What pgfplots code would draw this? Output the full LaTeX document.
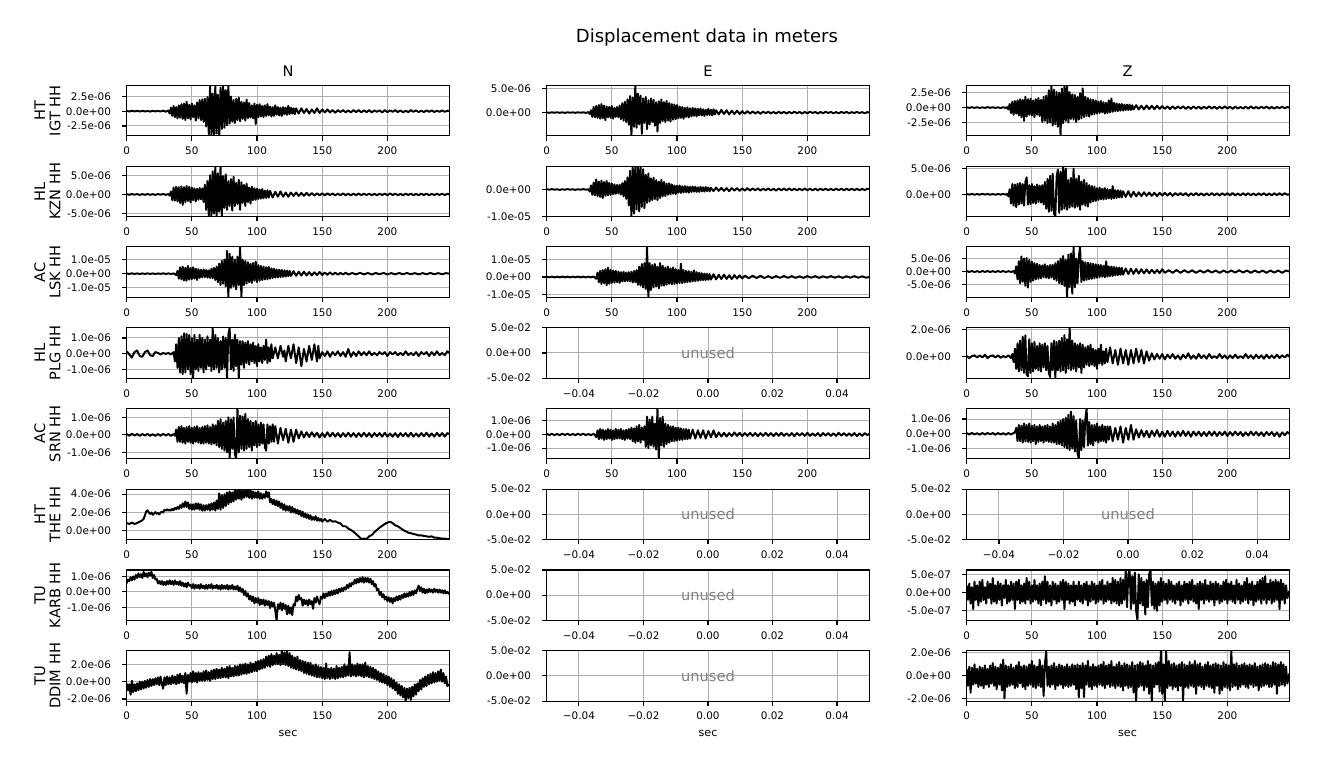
\documentclass[border=0pt]{standalone}
\usepackage{fontspec}
\setmainfont{DejaVu Sans}
\usepackage{pgfplots}
\pgfplotsset{compat=1.18}
\pgfplotsset{
  panel/.style={scale only axis, width=232.3pt, height=36.3pt, anchor=south west,
    axis line style={line width=0.8pt}, tick align=outside, xtick pos=bottom, ytick pos=left,
    major tick length=3.5pt, every tick/.style={black, line width=0.8pt},
    grid=major, major grid style={color=black!31, line width=0.7pt},
    scaled ticks=false,
    ticklabel style={font=\fontsize{7.5}{9}\selectfont},
    xticklabel shift=1pt, yticklabel shift=4.3pt,
    /pgf/number format/assume math mode=true},
  wave/.style={panel, xmin=0, xmax=247.5, xtick={0,50,100,150,200}, xticklabels={0,50,100,150,200}},
  unused/.style={panel, xmin=-0.05, xmax=0.05, ymin=-0.05, ymax=0.05,
    xtick={-0.04,-0.02,0,0.02,0.04}, xticklabels={−0.04,−0.02,0.00,0.02,0.04},
    ytick={-0.05,0,0.05}, yticklabels={-5.0e-02,0.0e+00,5.0e-02}},
  trace/.style={black, line width=1.4pt, line join=round, no marks},
}
\newcommand{\unusedtext}{\node[text=black!50, font=\fontsize{10.5}{12}\selectfont] at (axis cs:0,0) {unused};}
\begin{document}
\begin{tikzpicture}
\useasboundingbox (0,0) rectangle (948.96pt,553.68pt);
% titles
\node[font=\fontsize{13}{15}\selectfont] at (509pt,526.3pt) {Displacement data in meters};
\node[font=\fontsize{10.5}{12}\selectfont] at (207.4pt,502.3pt) {N};
\node[font=\fontsize{10.5}{12}\selectfont] at (509.8pt,502.3pt) {E};
\node[font=\fontsize{10.5}{12}\selectfont] at (811.8pt,502.3pt) {Z};
\foreach \lab [count=\i from 0] in {{HT\\IGT HH},{HL\\KZN HH},{AC\\LSK HH},{HL\\PLG HH},{AC\\SRN HH},{HT\\THE HH},{TU\\KARB HH},{TU\\DDIM HH}}
  \node[rotate=90, align=center, font=\fontsize{10.5}{11}\selectfont] at (34.2pt,{473.95pt-58.13pt*\i}) {\lab};
\foreach \xc in {207.4pt,509.8pt,811.8pt}
  \node[font=\fontsize{8}{10}\selectfont] at (\xc,25.9pt) {sec};
%% row 1 : IGT
\begin{axis}[wave, at={(91.2pt,455.8pt)}, ymin=-4.19, ymax=4.36, ytick={-2.5,0,2.5}, yticklabels={-2.5e-06,0.0e+00,2.5e-06}]
\addplot[trace] coordinates {(0,.05)(2,-.05)(4,.08)(6,-.03)(8,.06)(10,-.05)(12,.07)(14,-.04)(16,.05)(18,-.06)(20,.08)(22,-.03)(24,.06)(26,-.05)(28,.1)(30,-.08)(32,.12)
(33,-.4)(34,.6)(35,-.8)(36,.9)(37,-1)(38,.7)(39,-1.2)(40,1)(41,-1.1)(42,1.2)(43,-1.3)(44,1.3)(45,-1.5)(46,1.6)(47,-1.2)(48,1.1)(49,-1.4)(50,1.3)(51,-1)(52,1)(53,-1.6)(54,1.5)(55,-1.2)(56,1.9)(57,-1.5)(58,2)(59,-1.8)(60,2.1)(61,-2.6)(62,2.4)(63,-3.9)(64,4.4)(65,-4.2)(66,3)(67,-4)(68,4.4)(69,-3.8)(70,2.8)(71,-4.2)(72,4)(73,-3)(74,4.4)(75,-2.8)(76,3.6)(77,-2.4)(78,4.4)(79,-2.1)(80,2.5)(81,-1.8)(82,1.9)(83,-2)(84,2.1)(85,-1.5)(86,2.3)(87,-1.7)(88,1.6)(89,-1.3)(90,1.5)(91,-1.6)(92,2)(93,-1.2)(94,1.4)(95,-1.1)(96,1)(97,-1.2)(98,1.3)(99,-2.2)(100,1.1)(101,-1)(102,1.2)(103,-.9)(104,.9)(105,-1)(106,1)(107,-.8)(108,1.2)(109,-.7)(110,.8)(111,-.9)(112,.7)(113,-.8)(114,1)(115,-.6)(116,.7)(117,-.7)(118,.6)(119,-.8)(120,.7)(121,-.5)(122,.6)(123,-.6)(124,.9)(125,-.5)(126,.6)(127,-.4)(128,.5)(129,-.5)(130,.5)
(132,-.4)(134,.5)(136,-.3)(138,.4)(140,-.4)(142,.3)(144,-.3)(146,.5)(148,-.3)(150,.3)(152,-.2)(154,.3)(156,-.2)(158,.2)(160,-.25)(162,.2)(164,-.15)(166,.2)(168,-.2)(170,.15)(172,-.2)(174,.2)(176,-.15)(178,.2)(180,-.2)(182,.15)(184,-.15)(186,.2)(188,-.2)(190,.15)(192,-.1)(194,.15)(196,-.2)(198,.2)(200,-.15)(202,.15)(204,-.1)(206,.2)(208,-.15)(210,.15)(212,-.2)(214,.1)(216,-.15)(218,.2)(220,-.1)(222,.15)(224,-.15)(226,.1)(228,-.15)(230,.15)(232,-.1)(234,.15)(236,-.15)(238,.1)(240,-.1)(242,.15)(244,-.1)(246,.1)(247.5,0)};
\end{axis}
\begin{axis}[wave, at={(393.6pt,455.8pt)}, ymin=-4.93, ymax=5.72, ytick={0,5}, yticklabels={0.0e+00,5.0e-06}]
\addplot[trace] coordinates {(0,.05)(2,-.05)(4,.06)(6,-.04)(8,.07)(10,-.05)(12,.05)(14,-.06)(16,.07)(18,-.04)(20,.06)(22,-.05)(24,.08)(26,-.04)(28,.06)(30,-.06)(32,.1)
(33,-.3)(34,.5)(35,-.9)(36,1.2)(37,-1)(38,1.4)(39,-1.1)(40,1.6)(41,-1.3)(42,1.8)(43,-1.2)(44,1.5)(45,-1.6)(46,1.3)(47,-1)(48,1.2)(49,-1.1)(50,1.4)(51,-1.3)(52,1)(53,-.9)(54,1.2)(55,-1)(56,1.5)(57,-1.4)(58,2)(59,-1.7)(60,2.3)(61,-2)(62,2.8)(63,-2.6)(64,3.5)(65,-4.9)(66,3.2)(67,-3)(68,5.7)(69,-3.2)(70,4)(71,-2.5)(72,3.6)(73,-4.5)(74,3)(75,-2.2)(76,3.3)(77,-3.5)(78,2.6)(79,-2.5)(80,3)(81,-2)(82,2.7)(83,-2.8)(84,2.2)(85,-4)(86,2.4)(87,-2.2)(88,2.8)(89,-1.8)(90,2.2)(91,-2)(92,2.5)(93,-1.7)(94,2)(95,-1.9)(96,1.8)(97,-1.5)(98,1.7)(99,-1.4)(100,1.6)(101,-1.2)(102,1.3)(103,-1.1)(104,1.2)(105,-1.3)(106,1)(107,-.9)(108,1.1)(109,-1)(110,.9)(111,-.8)(112,1)(113,-.7)(114,.9)(115,-.8)(116,.8)(117,-.6)(118,.9)(119,-.6)(120,.7)(121,-.7)(122,.6)(123,-.5)(124,.8)(125,-.5)(126,.6)(127,-.6)(128,.7)(129,-.4)(130,.5)
(132,-.4)(134,.6)(136,-.3)(138,.5)(140,-.4)(142,.4)(144,-.3)(146,.4)(148,-.3)(150,.3)(152,-.25)(154,.3)(156,-.2)(158,.25)(160,-.2)(162,.2)(164,-.25)(166,.2)(168,-.15)(170,.2)(172,-.2)(174,.15)(176,-.2)(178,.2)(180,-.15)(182,.15)(184,-.2)(186,.15)(188,-.15)(190,.2)(192,-.15)(194,.15)(196,-.2)(198,.15)(200,-.15)(202,.2)(204,-.1)(206,.15)(208,-.2)(210,.15)(212,-.15)(214,.2)(216,-.1)(218,.15)(220,-.15)(222,.1)(224,-.15)(226,.15)(228,-.1)(230,.15)(232,-.15)(234,.1)(236,-.1)(238,.15)(240,-.1)(242,.1)(244,-.15)(246,.1)(247.5,0)};
\end{axis}
\begin{axis}[wave, at={(696pt,455.8pt)}, ymin=-4.72, ymax=3.68, ytick={-2.5,0,2.5}, yticklabels={-2.5e-06,0.0e+00,2.5e-06}]
\addplot[trace] coordinates {(0,.05)(2,-.05)(4,.07)(6,-.04)(8,.06)(10,-.06)(12,.05)(14,-.05)(16,.08)(18,-.04)(20,.06)(22,-.05)(24,.05)(26,-.07)(28,.06)(30,-.05)(31,.08)
(32,-.3)(33,.6)(34,-.9)(35,1)(36,-1.2)(37,1.1)(38,-1)(39,1.2)(40,-1.3)(41,1.4)(42,-1.6)(43,1.3)(44,-2.2)(45,1.8)(46,-1.5)(47,1.4)(48,-1.2)(49,1.5)(50,-1.3)(51,1.2)(52,-1.6)(53,1.4)(54,-1.2)(55,1.6)(56,-1.4)(57,1.3)(58,-2.4)(59,1.8)(60,-2.2)(61,2)(62,-2.6)(63,2.9)(64,-2.5)(65,3.7)(66,-3)(67,3)(68,-2.8)(69,2.6)(70,-3.2)(71,2.5)(72,-4.7)(73,3.2)(74,-2.6)(75,3.7)(76,-2.2)(77,3.7)(78,-2.5)(79,2.6)(80,-1.9)(81,2.2)(82,-2)(83,2.1)(84,-2.4)(85,1.8)(86,-2)(87,2.4)(88,-1.8)(89,3.2)(90,-1.6)(91,1.8)(92,-1.4)(93,1.6)(94,-1.5)(95,1.4)(96,-1.2)(97,1.3)(98,-1.1)(99,1.2)(100,-1)(101,1)(102,-.9)(103,1.1)(104,-.8)(105,.9)(106,-1)(107,.8)(108,-.9)(109,1.2)(110,-.8)(111,1.5)(112,-.7)(113,.8)(114,-.6)(115,.7)(116,-.6)(117,.6)(118,-.5)(119,.6)(120,-.5)(121,.5)(122,-.4)(123,.5)(124,-.4)(125,.5)(126,-.4)(127,.4)(128,-.3)(130,.4)
(132,-.3)(134,.3)(136,-.3)(138,.35)(140,-.25)(142,.3)(144,-.25)(146,.3)(148,-.2)(150,.25)(152,-.2)(154,.2)(156,-.25)(158,.2)(160,-.2)(162,.2)(164,-.15)(166,.2)(168,-.2)(170,.15)(172,-.2)(174,.2)(176,-.15)(178,.15)(180,-.2)(182,.15)(184,-.15)(186,.2)(188,-.15)(190,.15)(192,-.2)(194,.15)(196,-.15)(198,.2)(200,-.15)(202,.15)(204,-.2)(206,.15)(208,-.15)(210,.1)(212,-.15)(214,.15)(216,-.15)(218,.2)(220,-.15)(222,.1)(224,-.15)(226,.15)(228,-.1)(230,.15)(232,-.15)(234,.1)(236,-.15)(238,.1)(240,-.1)(242,.15)(244,-.1)(246,.1)(247.5,0)};
\end{axis}
%% row 2 : KZN
\begin{axis}[wave, at={(91.2pt,397.7pt)}, ymin=-5.77, ymax=7.34, ytick={-5,0,5}, yticklabels={-5.0e-06,0.0e+00,5.0e-06}]
\addplot[trace] coordinates {(0,.1)(2,-.1)(4,.12)(6,-.08)(8,.1)(10,-.12)(12,.08)(14,-.1)(16,.12)(18,-.1)(20,.08)(22,-.12)(24,.1)(26,-.08)(28,.12)(30,-.1)(32,.1)
(33,-.3)(34,.8)(35,-1.5)(36,1.8)(37,-1.6)(38,2)(39,-1.8)(40,1.9)(41,-2.2)(42,2.1)(43,-2.7)(44,1.9)(45,-2)(46,2.2)(47,-1.7)(48,2)(49,-2.1)(50,1.8)(51,-1.5)(52,1.6)(53,-1.8)(54,1.5)(55,-1.4)(56,1.7)(57,-1.3)(58,1.6)(59,-2)(60,2.5)(61,-4)(62,3.5)(63,-5.5)(64,5)(65,-5.8)(66,6)(67,-5)(68,7.3)(69,-5.8)(70,5.5)(71,-4.5)(72,7.3)(73,-5.5)(74,4.8)(75,-3.5)(76,5.2)(77,-4)(78,3.5)(79,-3)(80,4)(81,-4.2)(82,4.6)(83,-3)(84,3)(85,-2.5)(86,3.8)(87,-4)(88,3.2)(89,-2.2)(90,2.5)(91,-3)(92,2.8)(93,-2)(94,1.8)(95,-2.4)(96,2)(97,-1.5)(98,1.6)(99,-1.4)(100,1.5)(101,-1.2)(102,1.3)(103,-1.1)(104,1.4)(105,-1)(106,1)(107,-.9)(108,1.1)(109,-.8)(110,.9)(112,-.8)(114,.7)(116,-.6)(118,.8)(120,-.6)(122,.5)(124,-.6)(126,.5)(128,-.4)(130,.5)
(132,-.4)(134,.4)(136,-.35)(138,.4)(140,-.3)(142,.35)(144,-.3)(146,.3)(148,-.25)(150,.3)(152,-.25)(154,.3)(156,-.2)(158,.25)(160,-.25)(162,.2)(164,-.2)(166,.25)(168,-.2)(170,.2)(172,-.25)(174,.2)(176,-.2)(178,.25)(180,-.2)(182,.2)(184,-.15)(186,.2)(188,-.2)(190,.15)(192,-.2)(194,.2)(196,-.15)(198,.2)(200,-.2)(202,.25)(204,-.15)(206,.2)(208,-.2)(210,.15)(212,-.2)(214,.2)(216,-.15)(218,.2)(220,-.2)(222,.15)(224,-.2)(226,.2)(228,-.15)(230,.2)(232,-.2)(234,.15)(236,-.15)(238,.2)(240,-.15)(242,.2)(244,-.15)(246,.15)(247.5,0)};
\end{axis}
\begin{axis}[wave, at={(393.6pt,397.7pt)}, ymin=-10.15, ymax=8.7, ytick={-10,0}, yticklabels={-1.0e-05,0.0e+00}]
\addplot[trace] coordinates {(0,.1)(2,-.1)(4,.15)(6,-.1)(8,.1)(10,-.15)(12,.1)(14,-.1)(16,.15)(18,-.1)(20,.1)(22,-.15)(24,.1)(26,-.1)(28,.15)(30,-.1)(32,.1)
(33,-.8)(34,1.5)(35,-2)(36,2.6)(37,-2.2)(38,3.8)(39,-2.5)(40,3)(41,-2.8)(42,3.3)(43,-3.2)(44,2.8)(45,-2.4)(46,3.2)(47,-2.2)(48,2.5)(49,-2)(50,2.2)(51,-1.8)(52,1.9)(53,-1.6)(54,1.7)(55,-1.5)(56,1.8)(57,-1.9)(58,2.4)(59,-2.6)(60,3.2)(61,-3.5)(62,4.5)(63,-6)(64,7)(65,-10.1)(66,8.7)(67,-9)(68,8.7)(69,-7.5)(70,8.7)(71,-8.2)(72,8.7)(73,-6.5)(74,7.6)(75,-7)(76,5.5)(77,-5)(78,6)(79,-4.5)(80,4.2)(81,-4)(82,4.4)(83,-3.6)(84,3.5)(85,-4)(86,3)(87,-3.2)(88,3.6)(89,-2.6)(90,2.8)(91,-2.5)(92,2.2)(93,-2)(94,2.3)(95,-1.8)(96,1.9)(97,-1.6)(98,1.5)(99,-1.7)(100,1.4)(101,-1.2)(102,1.5)(103,-1.3)(104,1.2)(105,-1.1)(106,1.3)(107,-1)(108,1.1)(109,-1.2)(110,1)(111,-.9)(112,1.1)(113,-.8)(114,1)(115,-.9)(116,.8)(117,-.9)(118,1)(119,-.7)(120,.8)(121,-.8)(122,.9)(123,-.6)(124,.7)(125,-.7)(126,.6)(128,-.6)(130,.7)
(132,-.5)(134,.6)(136,-.5)(138,.5)(140,-.6)(142,.5)(144,-.4)(146,.5)(148,-.5)(150,.4)(152,-.4)(154,.5)(156,-.4)(158,.4)(160,-.35)(162,.4)(164,-.4)(166,.35)(168,-.3)(170,.4)(172,-.35)(174,.3)(176,-.4)(178,.35)(180,-.3)(182,.35)(184,-.3)(186,.4)(188,-.3)(190,.3)(192,-.35)(194,.3)(196,-.3)(198,.35)(200,-.3)(202,.3)(204,-.35)(206,.3)(208,-.3)(210,.3)(212,-.25)(214,.3)(216,-.3)(218,.25)(220,-.3)(222,.3)(224,-.25)(226,.3)(228,-.3)(230,.25)(232,-.25)(234,.3)(236,-.25)(238,.25)(240,-.3)(242,.25)(244,-.25)(246,.3)(247.5,.1)};
\end{axis}
\begin{axis}[wave, at={(696pt,397.7pt)}, ymin=-4.34, ymax=5.46, ytick={0,5}, yticklabels={0.0e+00,5.0e-06}]
\addplot[trace] coordinates {(0,.08)(2,-.06)(4,.08)(6,-.08)(8,.06)(10,-.08)(12,.1)(14,-.06)(16,.08)(18,-.08)(20,.06)(22,-.1)(24,.08)(26,-.06)(28,.08)(30,-.08)(31,.1)
(32,-.4)(33,1)(34,-1.8)(35,2)(36,-2.2)(37,1.9)(38,-2.5)(39,2.1)(40,-2)(41,2.2)(42,-1.8)(43,2)(44,-2.2)(45,2.4)(46,3.3)(47,-2)(48,1.8)(49,-1.9)(50,2)(51,-1.7)(52,1.6)(53,-1.8)(54,1.9)(55,-1.5)(56,1.7)(57,-1.6)(58,1.8)(59,-2)(60,2.4)(61,-2.8)(62,3)(63,-3.4)(64,3.6)(65,-3.2)(66,4)(67,-3.8)(68,-4.3)(69,3.5)(70,4.8)(71,-3.6)(72,4.4)(73,-3)(74,5.4)(75,-2.8)(76,5)(77,-3)(78,2.8)(79,-2.6)(80,3.2)(81,-2.4)(82,5)(83,-2.6)(84,3)(85,-2.4)(86,3.6)(87,-3)(88,2.5)(89,-2)(90,2.8)(91,-2.2)(92,2.2)(93,-2.4)(94,1.8)(95,-1.6)(96,1.6)(97,-1.4)(98,1.5)(99,-1.3)(100,1.2)(101,-1.1)(102,1.3)(103,-1)(104,1.1)(105,-1)(106,1.2)(107,-.9)(108,1)(109,-.8)(110,.9)(111,-.9)(112,1.6)(113,-.8)(114,.8)(115,-.7)(116,.8)(117,-.6)(118,.7)(119,-.6)(120,.6)(122,-.5)(124,.6)(126,-.5)(128,.5)(130,-.4)
(132,.4)(134,-.35)(136,.4)(138,-.3)(140,.35)(142,-.3)(144,.3)(146,-.35)(148,.3)(150,-.25)(152,.3)(154,-.25)(156,.25)(158,-.3)(160,.25)(162,-.2)(164,.25)(166,-.2)(168,.25)(170,-.3)(172,.2)(174,-.2)(176,.25)(178,-.2)(180,.2)(182,-.25)(184,.2)(186,-.2)(188,.25)(190,-.2)(192,.2)(194,-.25)(196,.2)(198,-.15)(200,.2)(202,-.2)(204,.25)(206,-.2)(208,.15)(210,-.2)(212,.2)(214,-.15)(216,.2)(218,-.2)(220,.15)(222,-.2)(224,.2)(226,-.15)(228,.2)(230,-.2)(232,.15)(234,-.2)(236,.2)(238,-.15)(240,.2)(242,-.15)(244,.2)(246,-.1)(247.5,0)};
\end{axis}
%% row 3 : LSK
\begin{axis}[wave, at={(91.2pt,339.6pt)}, ymin=-16.6, ymax=18.8, ytick={-10,0,10}, yticklabels={-1.0e-05,0.0e+00,1.0e-05}]
\addplot[trace] coordinates {(0,.2)(2,-.2)(4,.25)(6,-.2)(8,.2)(10,-.25)(12,.2)(14,-.2)(16,.25)(18,-.2)(20,.2)(22,-.25)(24,.2)(26,-.2)(28,.25)(30,-.2)(32,.2)(34,-.25)(36,.2)
(38,-1)(39,2)(40,-3.5)(41,4.5)(42,-4)(43,5)(44,-4.8)(45,4.2)(46,-5)(47,5.4)(48,-4.2)(49,4)(50,-3.8)(51,4.5)(52,-3.5)(53,3.6)(54,-4.4)(55,3.2)(56,-3)(57,2.8)(58,-2.6)(59,3)(60,-2.4)(61,2.6)(62,-2.8)(63,2.4)(64,-3)(65,3.5)(66,-3.2)(67,4)(68,-4.5)(69,5)(70,-6)(71,7)(72,-8)(73,9)(74,-7)(75,10)(76,-9)(77,16)(78,-16.6)(79,14)(80,-10)(81,12)(82,-9)(83,10)(84,-11)(85,12)(86,-8)(87,18.8)(88,-16.6)(89,10)(90,-8)(91,9)(92,-7)(93,8)(94,-6)(95,7)(96,-6.5)(97,7.5)(98,-5)(99,8.5)(100,-6)(101,6)(102,-5)(103,5.5)(104,-4.5)(105,5)(106,-4)(107,4.5)(108,-4)(109,4.8)(110,-3.5)(111,3.8)(112,-3)(113,3.5)(114,-2.8)(115,3)(116,-2.6)(117,2.8)(118,-2.4)(119,2.6)(120,-2.2)(121,2.4)(122,-2)(123,2.2)(124,-1.8)(125,2)(126,-1.6)(128,1.8)(130,-1.5)
(132,1.4)(134,-1.3)(136,1.4)(138,-1.2)(140,1.1)(142,-1.2)(144,1)(146,-1)(148,1.2)(150,-.9)(152,.8)(154,-.8)(156,.9)(158,-.7)(160,.7)(162,-.7)(164,.6)(166,-.6)(168,.7)(170,-.6)(173,.5)(176,-.5)(179,.6)(182,-.5)(185,.5)(188,-.6)(191,.5)(194,-.4)(197,.5)(200,-.5)(203,.4)(206,-.5)(209,.5)(212,-.4)(215,.5)(218,-.4)(221,.4)(224,-.5)(227,.4)(230,-.4)(233,.5)(236,-.4)(239,.4)(242,-.4)(245,.4)(247.5,0)};
\end{axis}
\begin{axis}[wave, at={(393.6pt,339.6pt)}, ymin=-11.7, ymax=17.3, ytick={-10,0,10}, yticklabels={-1.0e-05,0.0e+00,1.0e-05}]
\addplot[trace] coordinates {(0,.2)(2,-.2)(4,.2)(6,-.25)(8,.2)(10,-.2)(12,.25)(14,-.2)(16,.2)(18,-.25)(20,.2)(22,-.2)(24,.25)(26,-.2)(28,.2)(30,-.25)(32,.2)(34,-.2)(36,.25)
(38,-1)(39,2.5)(40,-3)(41,3.5)(42,-4)(43,4)(44,-3.6)(45,4.5)(46,-4.8)(47,5.4)(48,-4)(49,4.2)(50,-3.5)(51,3.8)(52,-3.2)(53,3.5)(54,-3)(55,3.2)(56,-3.4)(57,2.8)(58,-2.6)(59,3)(60,-2.5)(61,2.6)(62,-2.4)(63,2.8)(64,-2.5)(65,3)(66,-3.2)(67,3.5)(68,-3)(69,4)(70,-4.5)(71,6)(72,-5)(73,7.5)(74,-6)(75,8)(76,-7)(77,17.3)(78,-11.7)(79,8)(80,-7.5)(81,7)(82,-6)(83,7.5)(84,-5.5)(85,6)(86,-6.5)(87,8)(88,-5)(89,6.5)(90,-5)(91,5.5)(92,-4.5)(93,6)(94,-4)(95,5)(96,-4.2)(97,5.5)(98,-4)(99,4.5)(100,-3.8)(101,4)(102,-3.5)(103,7.7)(104,-3.6)(105,4)(106,-3.2)(107,3.6)(108,-3)(109,3.4)(110,-2.8)(111,3)(112,-2.6)(113,3.8)(114,-2.4)(115,2.8)(116,-2.2)(117,2.5)(118,-2)(119,2.2)(120,-1.8)(121,2)(122,-1.8)(123,1.9)(124,-1.6)(125,1.7)(126,-1.5)(128,1.6)(130,-1.4)
(132,1.3)(134,-1.2)(136,1.4)(138,-1.1)(140,1)(142,-1.2)(144,1.1)(146,-.9)(148,.9)(150,-.8)(152,.8)(155,-.7)(158,.7)(161,-.6)(164,.7)(167,-.6)(170,.5)(173,-.6)(176,.5)(179,-.5)(182,.6)(185,-.5)(188,.5)(191,-.5)(194,.4)(197,-.5)(200,.5)(203,-.4)(206,.5)(209,-.5)(212,.4)(215,-.4)(218,.5)(221,-.4)(224,.4)(227,-.5)(230,.4)(233,-.4)(236,.5)(239,-.4)(242,.4)(245,-.4)(247.5,0)};
\end{axis}
\begin{axis}[wave, at={(696pt,339.6pt)}, ymin=-9.9, ymax=9.46, ytick={-5,0,5}, yticklabels={-5.0e-06,0.0e+00,5.0e-06}]
\addplot[trace] coordinates {(0,.2)(2,-.15)(4,.2)(6,-.2)(8,.15)(10,-.2)(12,.2)(14,-.15)(16,.2)(18,-.2)(20,.15)(22,-.2)(24,.2)(26,-.15)(28,.2)(30,-.2)(32,.15)(34,-.2)(36,.2)
(37,-.8)(38,2)(39,-3)(40,4)(41,-4.5)(42,5.8)(43,-4)(44,5)(45,-5.5)(46,5.2)(47,-6.2)(48,4.5)(49,-4)(50,3.8)(51,-3.5)(52,3.2)(53,-3)(54,3)(55,-2.8)(56,2.5)(57,-2.6)(58,2.4)(59,-2.2)(60,2.8)(61,-2.4)(62,2.2)(63,-2.6)(64,2.5)(65,-2.3)(66,2.6)(67,-3)(68,3.2)(69,-3.5)(70,4)(71,-4.5)(72,5)(73,-5)(74,6)(75,-5.5)(76,4.5)(77,-9.9)(78,6.5)(79,-6)(80,7)(81,-8.5)(82,9.46)(83,-6)(84,5)(85,-4.5)(86,5.5)(87,9.46)(88,-4)(89,4)(90,-3.5)(91,3.6)(92,-3.2)(93,3.4)(94,-3)(95,3.2)(96,-2.8)(97,3)(98,-2.6)(99,2.8)(100,-2.4)(101,2.6)(102,-2.2)(103,2.5)(104,-2)(105,2.2)(106,-2.2)(107,3.9)(108,-2)(109,2)(110,-1.8)(111,1.9)(112,-1.7)(113,1.8)(114,-1.5)(115,1.6)(116,-1.4)(117,1.5)(118,-1.3)(119,1.4)(120,-1.2)(122,1.2)(124,-1)(126,1.1)(128,-.9)(130,1)
(132,-.8)(134,.9)(136,-.7)(138,.8)(140,-.7)(142,.7)(144,-.6)(146,.6)(148,-.6)(150,.9)(152,-.5)(155,.5)(158,-.5)(161,.6)(164,-.5)(167,.5)(170,-.4)(173,.5)(176,-.5)(179,.4)(182,-.4)(185,.5)(188,-.4)(191,.4)(194,-.5)(197,.4)(200,-.4)(203,.4)(206,-.4)(209,.5)(212,-.4)(215,.4)(218,-.5)(221,.4)(224,-.4)(227,.4)(230,-.5)(233,.4)(236,-.4)(239,.4)(242,-.5)(245,.4)(247.5,0)};
\end{axis}
%% row 4 : PLG
\begin{axis}[wave, at={(91.2pt,281.4pt)}, ymin=-1.56, ymax=1.65, ytick={-1,0,1}, yticklabels={-1.0e-06,0.0e+00,1.0e-06}]
\addplot[trace] coordinates {(0,.15)(2,-.05)(4,-.25)(6,.1)(8,.2)(10,-.15)(12,-.2)(14,.1)(16,.2)(18,-.1)(20,-.15)(22,.1)(24,.05)(26,-.05)(28,.05)(30,-.02)(32,.05)(34,-.05)(36,.1)
(37,-.5)(38,.6)(39,-.9)(40,1)(41,-1.2)(42,1.1)(43,-1.3)(44,1.3)(45,-1.2)(46,1.25)(47,-1)(48,1.2)(49,-1.3)(50,1)(51,-1.56)(52,1.2)(53,-1)(54,.9)(55,-1.1)(56,1.2)(57,-.9)(58,1)(59,-1.2)(60,.9)(61,-1)(62,1.1)(63,-.8)(64,.9)(65,-1.1)(66,1.65)(67,-1)(68,1.2)(69,-.9)(70,1)(71,-1.2)(72,.8)(73,-1)(74,1.1)(75,-.9)(76,1)(77,-1.56)(78,1.2)(79,1.65)(80,-1)(81,.9)(82,-1.1)(83,1.2)(84,-.8)(85,.9)(86,-1.56)(87,.8)(88,-.7)(89,.8)(90,-.9)(91,.7)(92,-.6)(93,.8)(94,-.7)(95,.6)(96,-.5)(97,.7)(98,-.6)(99,.5)(100,-.8)(101,.6)(102,-.5)(103,.4)(104,-.6)(105,.5)(106,-.4)(107,.9)(108,-.6)(109,.4)(110,-.5)(111,.6)(112,-.3)(114,.4)(116,-.3)(118,.5)(120,-.2)(121,.2)(122,-.5)(124,.5)(126,-.3)(128,.6)(130,-.6)(132,.4)(134,-.8)(136,.3)(138,-.5)(140,.5)(142,-.4)(144,.6)(146,-.5)(147,.5)(148,-.3)(150,.1)
(152,-.15)(154,.15)(156,-.2)(158,.1)(160,-.1)(162,.15)(164,-.15)(166,.1)(168,-.2)(170,.3)(172,-.2)(174,.1)(176,-.15)(178,.15)(180,-.1)(182,.1)(184,-.1)(186,.15)(188,-.1)(190,.05)(192,-.1)(194,.1)(196,-.05)(198,.1)(200,-.15)(202,.1)(204,-.05)(206,.1)(208,-.1)(210,.05)(212,-.1)(214,.15)(216,-.1)(218,.05)(220,-.1)(222,.1)(224,-.15)(226,.1)(228,-.05)(230,.1)(232,-.15)(234,.1)(236,-.1)(238,.15)(240,-.1)(242,.05)(244,-.1)(246,.15)(247.5,.05)};
\end{axis}
\begin{axis}[unused, at={(393.6pt,281.4pt)}]
\unusedtext
\end{axis}
\begin{axis}[wave, at={(696pt,281.4pt)}, ymin=-1.59, ymax=2.15, ytick={0,2}, yticklabels={0.0e+00,2.0e-06}]
\addplot[trace] coordinates {(0,.05)(2,-.1)(4,.05)(6,.1)(8,-.05)(10,.1)(12,-.05)(14,.15)(16,-.1)(18,.05)(20,.1)(22,-.05)(24,.1)(26,-.08)(28,.05)(30,-.05)(32,.1)(34,-.1)(35,.2)
(36,-.4)(37,.6)(38,-.9)(39,1)(40,-1.1)(41,1.2)(42,-1)(43,1.5)(44,-1.2)(45,1.6)(46,-1.3)(47,-1.45)(48,1.3)(49,-1.2)(50,1)(51,-1.1)(52,1.1)(53,-.9)(54,.8)(55,-1)(56,1)(57,-1.1)(58,.9)(59,-.8)(60,1)(61,-1)(62,.8)(63,-1.2)(64,-1.5)(65,1)(66,-1)(67,1.2)(68,-1.59)(69,1.1)(70,-1)(71,1.2)(72,-1.1)(73,1.4)(74,-1)(75,1.6)(76,-1.2)(77,1.3)(78,-.9)(79,2.15)(80,-1)(81,1.2)(82,-.9)(83,1)(84,-1.1)(85,.9)(86,-.8)(87,1)(88,-1.2)(89,.9)(90,-.8)(91,.7)(92,-.6)(93,.8)(94,-.7)(95,.9)(96,-.6)(97,.6)(98,-.7)(99,.5)(100,-.9)(101,.6)(102,-.5)(103,.9)(104,-.6)(105,.4)(106,-.5)(107,.6)(108,-.4)(110,.7)(112,-.5)(114,.5)(116,-.6)(118,.6)(120,-.5)(122,.5)(124,-.6)(126,.5)(128,-.5)(130,.6)(132,-.4)(134,.5)(136,-.5)(138,.4)(140,-.3)
(142,.25)(144,-.2)(146,.2)(148,-.15)(150,.2)(152,-.2)(154,.15)(156,-.1)(158,.2)(160,-.15)(162,.1)(164,-.2)(166,.15)(168,-.1)(170,.25)(172,-.15)(174,.1)(176,-.15)(178,.2)(180,-.1)(182,.1)(184,-.15)(186,.2)(188,-.1)(190,.05)(192,-.1)(194,.2)(196,-.1)(198,.1)(200,-.15)(202,.1)(204,-.1)(206,.15)(208,-.1)(210,.05)(212,-.1)(214,.2)(216,-.1)(218,.1)(220,-.15)(222,.15)(224,-.1)(226,.1)(228,-.15)(230,.15)(232,-.1)(234,.1)(236,-.1)(238,.15)(240,-.1)(242,.1)(244,-.05)(246,.15)(247.5,0)};
\end{axis}
%% row 5 : SRN
\begin{axis}[wave, at={(91.2pt,223.3pt)}, ymin=-1.37, ymax=1.51, ytick={-1,0,1}, yticklabels={-1.0e-06,0.0e+00,1.0e-06}]
\addplot[trace] coordinates {(0,.05)(2,-.05)(4,.06)(6,-.04)(8,.05)(10,-.06)(12,.05)(14,-.04)(16,.06)(18,-.05)(20,.04)(22,-.06)(24,.05)(26,-.05)(28,.06)(30,-.04)(32,.05)(34,-.06)(36,.05)(37,-.05)
(38,.3)(39,-.4)(40,.45)(41,-.4)(42,.5)(43,-.45)(44,.4)(45,-.5)(46,.45)(47,-.4)(48,.5)(49,-.45)(50,.4)(51,-.5)(52,.45)(53,-.4)(54,.5)(55,-.45)(56,.4)(57,-.5)(58,.45)(59,-.5)(60,.5)(61,-.45)(62,.55)(63,-.5)(64,.45)(65,-.55)(66,.6)(67,-.5)(68,.55)(69,-.6)(70,.8)(71,-.7)(72,.9)(73,-.8)(74,.7)(75,-.9)(76,.8)(77,-1)(78,1)(79,-1.37)(80,.9)(81,-.8)(82,1)(83,-1.1)(84,-1.37)(85,1.51)(86,-1)(87,1.1)(88,-.8)(89,1.06)(90,-.9)(91,1.2)(92,-.8)(93,.9)(94,-.7)(95,.8)(96,-.9)(97,.7)(98,-.6)(99,.8)(100,-.7)(101,.6)(102,-.6)(103,.7)(104,-.5)(105,.6)(106,-.7)(107,-.9)(108,.6)(109,-.5)(110,.5)(111,-.4)(112,.6)(113,-.4)(114,.5)(116,-.5)(118,.4)(120,-.3)(122,.35)(124,-.45)(126,.3)(128,-.4)(130,.3)(132,-.2)(134,.2)
(136,-.15)(138,.15)(140,-.12)(142,.15)(144,-.1)(146,.12)(148,-.15)(150,.1)(152,-.12)(154,.15)(156,-.1)(158,.12)(160,-.1)(162,.1)(164,-.12)(166,.1)(168,-.1)(170,.12)(172,-.1)(174,.1)(176,-.12)(178,.1)(180,-.1)(182,.12)(184,-.1)(186,.1)(188,-.12)(190,.1)(192,-.08)(194,.1)(196,-.1)(198,.12)(200,-.1)(202,.08)(204,-.1)(206,.1)(208,-.12)(210,.1)(212,-.08)(214,.1)(216,-.1)(218,.12)(220,-.1)(222,.08)(224,-.1)(226,.1)(228,-.08)(230,.12)(232,-.1)(234,.08)(236,-.1)(238,.12)(240,-.08)(242,.1)(244,-.1)(246,.1)(247.5,.05)};
\end{axis}
\begin{axis}[wave, at={(393.6pt,223.3pt)}, ymin=-1.78, ymax=1.9, ytick={-1,0,1}, yticklabels={-1.0e-06,0.0e+00,1.0e-06}]
\addplot[trace] coordinates {(0,.05)(2,-.04)(4,.05)(6,-.05)(8,.04)(10,-.05)(12,.06)(14,-.04)(16,.05)(18,-.05)(20,.04)(22,-.05)(24,.05)(26,-.04)(28,.06)(30,-.05)(32,.04)(34,-.05)(36,.05)(37,-.04)
(38,-.2)(39,.3)(40,-.35)(41,.4)(42,-.3)(43,.35)(44,-.4)(45,.3)(46,-.35)(47,.4)(48,-.3)(49,.35)(50,-.4)(51,.3)(52,-.35)(53,.4)(54,-.3)(55,.35)(56,-.3)(57,.4)(58,-.35)(59,.3)(60,-.4)(61,.35)(62,-.3)(63,.4)(64,-.35)(65,.5)(66,-.5)(67,.45)(68,-.6)(69,.6)(70,-.5)(71,.7)(72,-.6)(73,.5)(74,-.4)(75,.6)(76,-.9)(77,1.3)(78,-1)(79,1.1)(80,-.8)(81,1.3)(82,-.9)(83,.8)(84,-1.1)(85,1.9)(86,-1.78)(87,1.2)(88,-.8)(89,1.3)(90,-.9)(91,.8)(92,-.7)(93,.7)(94,-.6)(95,.6)(96,-.5)(97,.6)(98,-.5)(99,.5)(100,-.45)(101,.5)(102,-.4)(103,.45)(104,-.4)(105,.4)(106,-.35)(107,.4)(108,-.35)(109,.35)(110,-.3)(112,.35)(114,-.3)(116,.3)(118,-.25)(120,.3)(122,-.3)(124,.25)(126,-.2)(128,.3)(130,-.2)
(132,.15)(134,-.15)(136,.12)(138,-.15)(140,.1)(142,-.12)(144,.15)(146,-.1)(148,.12)(150,-.12)(152,.1)(154,-.1)(156,.12)(158,-.1)(160,.1)(162,-.12)(164,.1)(166,-.1)(168,.12)(170,-.1)(172,.1)(174,-.12)(176,.1)(178,-.1)(180,.12)(182,-.1)(184,.08)(186,-.1)(188,.1)(190,-.12)(192,.1)(194,-.08)(196,.1)(198,-.1)(200,.12)(202,-.1)(204,.08)(206,-.1)(208,.1)(210,-.12)(212,.1)(214,-.08)(216,.1)(218,-.1)(220,.08)(222,-.1)(224,.12)(226,-.08)(228,.1)(230,-.1)(232,.08)(234,-.1)(236,.1)(238,-.12)(240,.08)(242,-.1)(244,.1)(246,-.05)(247.5,.05)};
\end{axis}
\begin{axis}[wave, at={(696pt,223.3pt)}, ymin=-1.7, ymax=1.72, ytick={-1,0,1}, yticklabels={-1.0e-06,0.0e+00,1.0e-06}]
\addplot[trace] coordinates {(0,.05)(2,-.05)(4,.06)(6,-.05)(8,.04)(10,-.06)(12,.05)(14,-.05)(16,.06)(18,-.04)(20,.05)(22,-.06)(24,.05)(26,-.05)(28,.04)(30,-.06)(32,.05)(34,-.05)(36,.06)
(37,.1)(38,.4)(39,-.5)(40,.6)(41,-.5)(42,.55)(43,-.6)(44,.7)(45,-.5)(46,.6)(47,-.55)(48,.7)(49,-.6)(50,.55)(51,-.5)(52,.6)(53,-.7)(54,.5)(55,-.55)(56,.6)(57,-.5)(58,.5)(59,-.6)(60,.55)(61,-.5)(62,.6)(63,-.55)(64,.5)(65,-.6)(66,.7)(67,-.6)(68,.6)(69,-.7)(70,.8)(71,-.7)(72,.9)(73,-.8)(74,1)(75,-.9)(76,1.1)(77,-1)(78,1.3)(79,-1.1)(80,1.5)(81,-1)(82,1.2)(83,-1.2)(84,.9)(85,-1.3)(86,-1.7)(87,1)(88,-1.1)(89,.9)(90,-.9)(91,1)(92,1.72)(93,-.8)(94,.8)(95,-.7)(96,.6)(97,-.8)(98,.6)(99,-.5)(100,.7)(101,-.6)(102,.5)(103,-.5)(104,.6)(105,-.5)(106,.5)(107,-.6)(108,.5)(109,-.4)(110,.5)(112,-.5)(114,.4)(116,-.4)(118,.5)(120,-.6)(122,.4)(124,-.4)(126,.6)(128,-.4)(130,.3)
(132,-.25)(134,.25)(136,-.2)(138,.2)(140,-.25)(142,.2)(144,-.15)(146,.25)(148,-.2)(150,.15)(152,-.2)(154,.2)(156,-.15)(158,.15)(160,-.2)(162,.15)(164,-.15)(166,.2)(168,-.15)(170,.15)(172,-.2)(174,.15)(176,-.12)(178,.15)(180,-.15)(182,.12)(184,-.15)(186,.15)(188,-.12)(190,.15)(192,-.15)(194,.12)(196,-.1)(198,.15)(200,-.15)(202,.12)(204,-.12)(206,.15)(208,-.1)(210,.12)(212,-.15)(214,.1)(216,-.12)(218,.15)(220,-.1)(222,.12)(224,-.12)(226,.1)(228,-.15)(230,.12)(232,-.1)(234,.12)(236,-.15)(238,.1)(240,-.2)(242,.1)(244,-.1)(246,.12)(247.5,0)};
\end{axis}
%% row 6 : THE
\begin{axis}[wave, at={(91.2pt,165.2pt)}, ymin=-0.95, ymax=4.55, ytick={0,2,4}, yticklabels={0.0e+00,2.0e-06,4.0e-06}]
\addplot[trace] coordinates {(0,.85)(2,.75)(4,.9)(6,.75)(8,.85)(10,1)(12,1.15)(13,1.3)(14,1.7)(15,2.1)(16,2.25)(17,2)(18,1.85)(19,2)(20,1.75)(21,1.9)(22,2.05)(23,1.85)(24,1.95)(25,1.8)(26,2)(27,2.1)(28,2)(29,2.3)(30,2.2)(31,2.35)(32,2.2)(33,2.3)(34,2.2)(35,2.4)(36,2.25)(37,2.5)(38,2.35)(39,2.6)(40,2.4)(41,2.8)(42,2.5)(43,3)(44,2.6)(45,3.2)(46,2.6)(47,3.1)(48,2.4)(49,2.9)(50,2.3)(51,2.9)(52,2.3)(53,3)(54,2.4)(55,3)(56,2.3)(57,2.9)(58,2.2)(59,2.8)(60,2.2)(61,2.8)(62,2.3)(63,2.9)(64,2.2)(65,3)(66,2.3)(67,3.1)(68,2.2)(69,3.3)(70,2.4)(71,4.1)(72,2.3)(73,3.9)(74,2.5)(75,4)(76,2.7)(77,4.2)(78,2.9)(79,4.3)(80,3.1)(81,4.2)(82,3.2)(83,4.5)(84,3.4)(85,4.55)(86,3.5)(87,4.55)(88,3.4)(89,4.4)(90,3.6)(91,4.55)(92,3.7)(93,4.5)(94,3.6)(95,4.55)(96,3.5)(97,4.3)(98,3.6)(99,4.2)(100,3.6)(101,4.3)(102,3.5)(103,4.1)(104,3.5)(105,4)(106,3.6)(107,4.3)(108,3.7)(109,4.2)(110,3.1)(111,3.5)(112,2.9)(113,3.4)(114,2.8)(115,3.3)(116,2.7)(117,3.2)(118,2.5)(119,3)(120,2.3)(121,2.9)(122,2.2)(123,2.7)(124,2.2)(125,2.7)(126,2)(127,2.6)(128,2)(129,2.4)(130,1.9)(131,2.3)(132,1.8)(133,2.2)(134,1.6)(135,2.1)(136,1.5)(137,1.9)(138,1.4)(139,1.8)(140,1.3)(141,1.7)(142,1.2)(143,1.5)(144,1.2)(145,1.6)(146,1.1)(147,1.4)(148,1.1)(149,1.3)(150,1)(152,1.3)(154,1)(156,1.2)(158,1)(160,1.05)(162,.9)(164,.8)(166,.5)(168,.5)(170,.25)(172,.1)(174,-.1)(176,-.35)(178,-.6)(180,-.9)(182,-.85)(184,-.9)(186,-.6)(188,-.45)(190,-.15)(192,.1)(194,.35)(196,.55)(198,.75)(200,.9)(202,1)(204,.85)(206,.6)(208,.5)(210,.3)(212,.1)(214,-.05)(216,-.2)(218,-.25)(220,-.35)(222,-.4)(224,-.5)(226,-.5)(228,-.55)(230,-.6)(232,-.65)(234,-.6)(236,-.75)(238,-.75)(240,-.8)(242,-.85)(244,-.85)(246,-.9)(247.5,-.9)};
\end{axis}
\begin{axis}[unused, at={(393.6pt,165.2pt)}]
\unusedtext
\end{axis}
\begin{axis}[unused, at={(696pt,165.2pt)}]
\unusedtext
\end{axis}
%% row 7 : KARB
\begin{axis}[wave, at={(91.2pt,107pt)}, ymin=-1.85, ymax=1.42, ytick={-1,0,1}, yticklabels={-1.0e-06,0.0e+00,1.0e-06}]
\addplot[trace] coordinates {(0,.55)(1,.8)(2,.7)(3,.95)(4,.75)(5,1)(6,.8)(7,1.1)(8,.9)(9,1.2)(10,.95)(11,1.15)(12,.9)(13,1.3)(14,1)(15,1.2)(16,.95)(17,1.25)(18,1.05)(19,1.3)(20,.9)(21,1.1)(22,.8)(23,.85)(24,.55)(25,.7)(26,.5)(27,.7)(28,.45)(29,.65)(30,.45)(31,.7)(32,.5)(33,.75)(34,.5)(35,.7)(36,.45)(37,.75)(38,.5)(39,.65)(40,.45)(41,.7)(42,.4)(43,.6)(44,.35)(45,.55)(46,.3)(47,.6)(48,.4)(49,.45)(50,.25)(51,.5)(52,.2)(53,.45)(54,.25)(55,.45)(56,.2)(57,.5)(58,.25)(59,.4)(60,.2)(61,.45)(62,.2)(63,.45)(64,.25)(65,.5)(66,.2)(67,.4)(68,.25)(69,.45)(70,.2)(71,.4)(72,.15)(73,.45)(74,.2)(75,.4)(76,.2)(77,.45)(78,.15)(79,.4)(80,.2)(81,.45)(82,.15)(83,.35)(84,.15)(85,.4)(86,.05)(87,.3)(88,0)(89,.2)(90,-.2)(91,.05)(92,-.3)(93,-.1)(94,-.5)(95,-.25)(96,-.6)(97,-.3)(98,-.75)(99,-.4)(100,-.7)(101,-.4)(102,-.85)(103,-.5)(104,-.8)(105,-.5)(106,-.9)(107,-.55)(108,-.85)(109,-.6)(110,-1.05)(111,-.65)(112,-.95)(113,-.7)(114,-1.2)(115,-1.85)(116,-.8)(117,-1.1)(118,-.7)(119,-1.2)(120,-.75)(121,-1.1)(122,-.85)(123,-1.45)(124,-.9)(125,-1.4)(126,-1)(127,-1.5)(128,-.8)(129,-.9)(130,-.3)(131,-.6)(132,-.2)(133,-.5)(134,-.4)(135,-.9)(136,-.5)(137,-.8)(138,-.55)(139,-.9)(140,-.5)(141,-.8)(142,-.6)(143,-1.1)(144,-.4)(145,-.7)(146,-.3)(147,-.6)(148,-.8)(149,-.3)(150,-.45)(151,-.1)(152,-.4)(153,-.1)(154,-.3)(155,0)(156,-.25)(157,.05)(158,-.2)(159,.1)(160,-.15)(161,.15)(162,-.1)(163,.2)(164,0)(165,.25)(166,.05)(167,.3)(168,.15)(169,.45)(170,.25)(171,.55)(172,.35)(173,.6)(174,.5)(175,.8)(176,.55)(177,.85)(178,.6)(179,.9)(180,.65)(181,.95)(182,.6)(183,.9)(184,.65)(185,.9)(186,.6)(187,.85)(188,.5)(189,.7)(190,.35)(191,.5)(192,.1)(193,.2)(194,-.2)(195,0)(196,-.35)(197,-.15)(198,-.5)(199,-.3)(200,-.6)(201,-.35)(202,-.65)(203,-.4)(204,-.75)(205,-.4)(206,-.6)(207,-.3)(208,-.55)(209,-.25)(210,-.5)(211,-.2)(212,-.4)(213,-.1)(214,-.35)(215,-.1)(216,-.3)(217,0)(218,-.25)(219,.05)(220,-.2)(221,.1)(222,-.1)(223,.2)(224,.4)(225,.05)(226,.3)(227,-.05)(228,.2)(229,-.1)(230,.15)(231,-.05)(232,.2)(233,0)(234,.15)(235,-.05)(236,.2)(237,0)(238,.15)(239,-.05)(240,.15)(241,-.05)(242,.1)(243,-.1)(244,.1)(245,-.1)(246,0)(247.5,-.15)};
\end{axis}
\begin{axis}[unused, at={(393.6pt,107pt)}]
\unusedtext
\end{axis}
\begin{axis}[wave, at={(696pt,107pt)}, ymin=-0.76, ymax=0.62, ytick={-0.5,0,0.5}, yticklabels={-5.0e-07,0.0e+00,5.0e-07}]
\addplot[trace] coordinates {(0,.2)(1,-.2)(2,.25)(3,-.3)(4,.15)(5,-.45)(6,.3)(7,-.2)(8,.2)(9,-.35)(10,.3)(11,-.25)(12,.35)(13,-.2)(14,.15)(15,-.3)(16,.3)(17,-.15)(18,.25)(19,-.3)(20,.4)(21,-.25)(22,.2)(23,-.3)(24,.3)(25,-.2)(26,.25)(27,-.35)(28,.2)(29,-.15)(30,.35)(31,-.3)(32,.2)(33,-.25)(34,.3)(35,-.2)(36,.25)(37,-.45)(38,.3)(39,-.2)(40,.35)(41,-.3)(42,.2)(43,-.25)(44,.25)(45,-.3)(46,.4)(47,-.2)(48,.3)(49,-.3)(50,.2)(51,-.25)(52,.35)(53,-.2)(54,.2)(55,-.3)(56,.25)(57,-.35)(58,.3)(59,-.2)(60,.45)(61,-.3)(62,.3)(63,-.25)(64,.2)(65,-.35)(66,.3)(67,-.2)(68,.25)(69,-.3)(70,.2)(71,-.25)(72,.3)(73,-.2)(74,.35)(75,-.45)(76,.3)(77,-.2)(78,.25)(79,-.3)(80,.2)(81,-.25)(82,.3)(83,-.35)(84,.2)(85,-.2)(86,.3)(87,-.25)(88,.2)(89,-.3)(90,.25)(91,-.2)(92,.3)(93,-.35)(94,.2)(95,-.25)(96,.3)(97,-.2)(98,.25)(99,-.3)(100,.2)(101,-.25)(102,.3)(103,-.2)(104,.35)(105,-.3)(106,.2)(107,-.25)(108,.3)(109,-.2)(110,.25)(111,-.3)(112,.4)(113,-.25)(114,.35)(115,-.3)(116,.3)(117,-.35)(118,.4)(119,-.3)(120,.35)(121,-.2)(122,.62)(123,-.4)(124,.5)(125,.62)(126,-.45)(127,.45)(128,-.3)(129,.55)(130,-.5)(131,-.76)(132,.5)(133,-.3)(134,.4)(135,-.35)(136,.3)(137,-.6)(138,.35)(139,-.4)(140,.5)(141,.62)(142,-.35)(143,.3)(144,-.45)(145,.25)(146,-.5)(147,.3)(148,-.35)(149,.4)(150,-.25)(151,.3)(152,-.2)(153,.25)(154,-.3)(155,.35)(156,-.2)(157,.3)(158,-.25)(159,.2)(160,-.3)(161,.25)(162,-.2)(163,.3)(164,-.35)(165,.2)(166,-.25)(167,.3)(168,-.2)(169,.25)(170,-.3)(171,.3)(172,-.2)(173,.35)(174,-.25)(175,.2)(176,-.3)(177,.25)(178,-.45)(179,.3)(180,-.2)(181,.25)(182,-.3)(183,.35)(184,-.2)(185,.2)(186,-.25)(187,.3)(188,-.2)(189,.25)(190,-.35)(191,.3)(192,-.2)(193,.25)(194,-.3)(195,.2)(196,-.25)(197,.3)(198,-.2)(199,.35)(200,-.3)(201,.25)(202,-.2)(203,.3)(204,-.25)(205,.2)(206,-.3)(207,.35)(208,-.2)(209,.25)(210,-.3)(211,.2)(212,-.25)(213,.3)(214,-.2)(215,.4)(216,-.3)(217,.25)(218,-.2)(219,.3)(220,-.35)(221,.2)(222,-.25)(223,.3)(224,-.2)(225,.35)(226,-.3)(227,.4)(228,-.2)(229,.45)(230,-.3)(231,.25)(232,-.2)(233,.35)(234,-.3)(235,.3)(236,-.25)(237,.35)(238,-.2)(239,.3)(240,-.45)(241,.35)(242,-.2)(243,.25)(244,-.3)(245,.2)(246,-.15)(247.5,.05)};
\end{axis}
%% row 8 : DDIM
\begin{axis}[wave, at={(91.2pt,48.9pt)}, ymin=-2.24, ymax=3.58, ytick={-2,0,2}, yticklabels={-2.0e-06,0.0e+00,2.0e-06}]
\addplot[trace] coordinates {(0,-.2)(1,-1)(2,-.3)(3,-1.5)(4,.1)(5,-1.2)(6,-.3)(7,-1.1)(8,-.2)(9,-1)(10,0)(11,-.9)(12,0)(13,-.8)(14,.1)(15,-.7)(16,.2)(17,-.6)(18,.3)(19,-.5)(20,.3)(21,-.4)(22,.4)(23,-.3)(24,.5)(25,-.4)(26,.6)(27,-.3)(28,-.8)(29,.5)(30,-.4)(31,.6)(32,-.3)(33,.5)(34,-.3)(35,.7)(36,-.2)(37,.6)(38,-.3)(39,.8)(40,-.2)(41,.9)(42,-.1)(43,.7)(44,-.2)(45,1)(46,-1.4)(47,.8)(48,0)(49,1)(50,-.1)(51,1.2)(52,0)(53,1)(54,-.1)(55,1.1)(56,.1)(57,1)(58,.1)(59,1.2)(60,.1)(61,1.3)(62,.2)(63,1.1)(64,.1)(65,1.3)(66,.3)(67,1.4)(68,.3)(69,1.5)(70,.4)(71,1.4)(72,.4)(73,1.6)(74,.5)(75,1.5)(76,.5)(77,1.7)(78,.4)(79,1.8)(80,.6)(81,1.6)(82,.6)(83,1.8)(84,.7)(85,1.8)(86,.7)(87,2)(88,.8)(89,2)(90,.9)(91,2.1)(92,.9)(93,2)(94,1)(95,2.2)(96,1.1)(97,2.1)(98,1.2)(99,2.3)(100,1.2)(101,2.4)(102,1.4)(103,2.5)(104,1.5)(105,2.6)(106,1.6)(107,2.9)(108,1.8)(109,3)(110,1.7)(111,3.2)(112,1.9)(113,3)(114,2)(115,3.3)(116,2)(117,3.1)(118,1.9)(119,3.58)(120,2)(121,3.4)(122,1.9)(123,3.58)(124,1.8)(125,3.3)(126,1.6)(127,3)(128,1.5)(129,2.8)(130,1.4)(131,2.9)(132,1.3)(133,2.5)(134,1.2)(135,2.4)(136,1)(137,2.3)(138,.9)(139,2.2)(140,.8)(141,2.2)(142,.7)(143,1.9)(144,.6)(145,2)(146,.5)(147,1.8)(148,.5)(149,1.7)(150,.4)(151,1.6)(152,.3)(153,2.1)(154,.4)(155,1.5)(156,.3)(157,1.6)(158,.4)(159,1.5)(160,.3)(161,1.8)(162,.4)(163,1.6)(164,.5)(165,1.7)(166,.5)(167,2)(168,.6)(169,1.8)(170,.7)(171,3.4)(172,.6)(173,2)(174,.7)(175,1.9)(176,.6)(177,2.1)(178,.7)(179,2)(180,.6)(181,2)(182,.5)(183,2.2)(184,.6)(185,1.8)(186,.5)(187,1.7)(188,.4)(189,1.6)(190,.3)(191,1.4)(192,.2)(193,1.2)(194,0)(195,1)(196,-.1)(197,.9)(198,-.2)(199,.7)(200,-.4)(201,.6)(202,-.6)(203,.4)(204,-.8)(205,.2)(206,-1)(207,-.1)(208,-1.4)(209,-.3)(210,-1.6)(211,-.5)(212,-1.8)(213,-.7)(214,-2.24)(215,-.8)(216,-1.9)(217,-.7)(218,-2.1)(219,-.6)(220,-1.7)(221,-.3)(222,-1.5)(223,-.2)(224,-1.1)(225,.2)(226,-.9)(227,.4)(228,-.6)(229,.6)(230,-.5)(231,.8)(232,-.3)(233,.9)(234,-.2)(235,1.1)(236,-.1)(237,1)(238,0)(239,1.2)(240,.1)(241,1.4)(242,0)(243,1)(244,-.2)(245,.6)(246,-.5)(247.5,-.3)};
\end{axis}
\begin{axis}[unused, at={(393.6pt,48.9pt)}]
\unusedtext
\end{axis}
\begin{axis}[wave, at={(696pt,48.9pt)}, ymin=-2.24, ymax=2.2, ytick={-2,0,2}, yticklabels={-2.0e-06,0.0e+00,2.0e-06}]
\addplot[trace] coordinates {(0,.6)(1,-.9)(2,.8)(3,-1.5)(4,.7)(5,-.8)(6,1)(7,-.7)(8,.6)(9,-1)(10,.8)(11,-.9)(12,.7)(13,-1.1)(14,.9)(15,-.8)(16,.6)(17,-1)(18,.9)(19,-.7)(20,1.1)(21,-.9)(22,.8)(23,-1.2)(24,.7)(25,-.8)(26,1)(27,-1.3)(28,1.4)(29,-2)(30,.9)(31,-1)(32,.8)(33,-.9)(34,1)(35,-.8)(36,.7)(37,-1.1)(38,.9)(39,-1)(40,1.2)(41,-.7)(42,.8)(43,-1)(44,.9)(45,-1.2)(46,.8)(47,-.9)(48,1)(49,-.8)(50,1.3)(51,-1)(52,.9)(53,-1.1)(54,.8)(55,-.9)(56,1.4)(57,-1)(58,.9)(59,-1.8)(60,1)(61,2.2)(62,-.9)(63,.8)(64,-1)(65,.9)(66,-.8)(67,1.1)(68,-1.2)(69,.8)(70,-.9)(71,1)(72,-.8)(73,.9)(74,-1.1)(75,.8)(76,-.9)(77,1)(78,-1)(79,.8)(80,-.9)(81,1)(82,-.8)(83,.9)(84,-1.2)(85,1)(86,-1.9)(87,.9)(88,-1.1)(89,1.1)(90,-1.9)(91,.9)(92,-.8)(93,1.3)(94,-1)(95,.8)(96,-1.2)(97,1)(98,-.9)(99,.8)(100,-1)(101,.9)(102,-.8)(103,1)(104,-.9)(105,1.2)(106,-1.1)(107,.9)(108,-.8)(109,1)(110,-1)(111,1.3)(112,-.9)(113,.8)(114,-1.1)(115,1)(116,-.9)(117,1.2)(118,-1)(119,.9)(120,-1.3)(121,1.1)(122,-.9)(123,1)(124,-1.1)(125,.9)(126,-1)(127,1.2)(128,-1.5)(129,.9)(130,-2.24)(131,1)(132,-1)(133,1.2)(134,-.9)(135,1.1)(136,-1.3)(137,.9)(138,-1)(139,1.3)(140,-1.6)(141,1)(142,-2.24)(143,.9)(144,-1)(145,1.1)(146,-.8)(147,1.2)(148,-1.4)(149,2.2)(150,-1.6)(151,1)(152,-2.24)(153,2.2)(154,-1.1)(155,1.3)(156,-.9)(157,1)(158,-1.2)(159,1.1)(160,-1)(161,.9)(162,-1.3)(163,1)(164,-.9)(165,1.2)(166,-2.24)(167,1)(168,-1)(169,.9)(170,-1.1)(171,1.2)(172,-.9)(173,1)(174,-1)(175,1.3)(176,-1.6)(177,1)(178,-.9)(179,1.1)(180,-1)(181,.8)(182,-1.2)(183,1)(184,-.9)(185,1.2)(186,-1)(187,.9)(188,-1.1)(189,1)(190,-1.5)(191,1.1)(192,-.9)(193,1)(194,-1.6)(195,.9)(196,-1.3)(197,1.2)(198,-1)(199,1)(200,-1.1)(201,.9)(202,-1.3)(203,2.2)(204,-1)(205,1)(206,-.9)(207,1.1)(208,-1.2)(209,.9)(210,-1)(211,1)(212,-.8)(213,1.1)(214,-1)(215,.9)(216,-1.1)(217,1)(218,-.8)(219,.9)(220,-1)(221,1.1)(222,-.9)(223,.8)(224,-1.3)(225,.9)(226,-1)(227,1)(228,-.9)(229,1.1)(230,-.8)(231,1)(232,-1)(233,.9)(234,-1)(235,1.2)(236,-.8)(237,1.1)(238,-1.6)(239,1)(240,-.9)(241,1.2)(242,-.8)(243,1)(244,-.9)(245,.8)(246,-.7)(247.5,.2)};
\end{axis}
\end{tikzpicture}
\end{document}
